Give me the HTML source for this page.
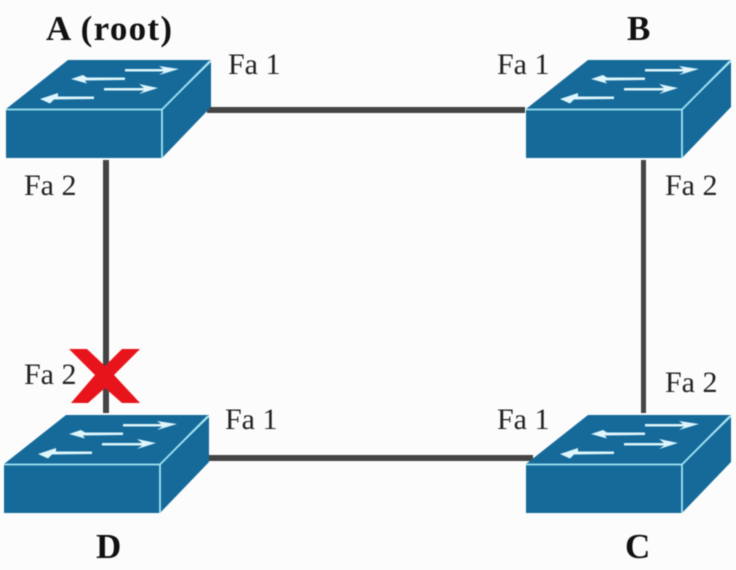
<!DOCTYPE html>
<html><head><meta charset="utf-8"><style>
html,body{margin:0;padding:0;background:#fff}
svg{display:block;filter:blur(.4px)}
text{font-family:"Liberation Serif",serif;fill:#222}
.p{font-size:30px}
.b{font-size:35px;font-weight:bold;fill:#111}
.ln{fill:#444}
</style></head><body>
<svg width="736" height="570" viewBox="0 0 736 570" xmlns="http://www.w3.org/2000/svg">
<defs>
<g id="sw">
<polygon points="6,109 68,60 211,60 162,109" fill="#156a9a"/>
<polygon points="162,110 211,62 211,107 162,158" fill="#156a9a"/>
<rect x="6" y="110" width="156" height="48" fill="#156a9a"/>
<path d="M7,109.500H162M162,109.500L210,61M162,110V158" stroke="#9fe3f2" stroke-width="1.800" fill="none"/>
<g fill="#dff6fc">
<polygon points="125,69 163,69 159,66 179,69 159,75 164,71.500 125,71.500"/>
<polygon points="125,77.500 87,77.500 83,75 71,79 87,83.500 85,80.500 125,80"/>
<polygon points="104,88 144,88 139,84 158,88 139,94 144,90.500 104,90.500"/>
<polygon points="94,96.500 58,96.500 58,93 40,99 50,103.500 54,99.500 94,99"/>
</g>
</g>
</defs>
<rect width="736" height="570" fill="#fcfcfc"/>
<rect class="ln" x="207" y="107" width="318" height="6"/>
<rect class="ln" x="209" y="455" width="324" height="6"/>
<rect class="ln" x="103" y="160" width="6" height="253"/>
<rect class="ln" x="641" y="160" width="5" height="253"/>
<use href="#sw"/>
<use href="#sw" x="520"/>
<use href="#sw" x="-2" y="355"/>
<use href="#sw" x="520" y="355"/>
<polygon points="69,349 87,349 105,366 122,349 140,349 114,375 140,403 122,403 105,388 88,403 71,403 95,375" fill="#e8141c"/>
<text class="b" x="46" y="40" textLength="126">A (root)</text>
<text class="b" x="627" y="40">B</text>
<text class="b" x="96" y="558">D</text>
<text class="b" x="625" y="558">C</text>
<text class="p" x="228" y="74">Fa 1</text>
<text class="p" x="497" y="74">Fa 1</text>
<text class="p" x="24" y="195">Fa 2</text>
<text class="p" x="665" y="195">Fa 2</text>
<text class="p" x="24" y="384">Fa 2</text>
<text class="p" x="665" y="392">Fa 2</text>
<text class="p" x="225" y="429">Fa 1</text>
<text class="p" x="497" y="429">Fa 1</text>
</svg>
</body></html>
